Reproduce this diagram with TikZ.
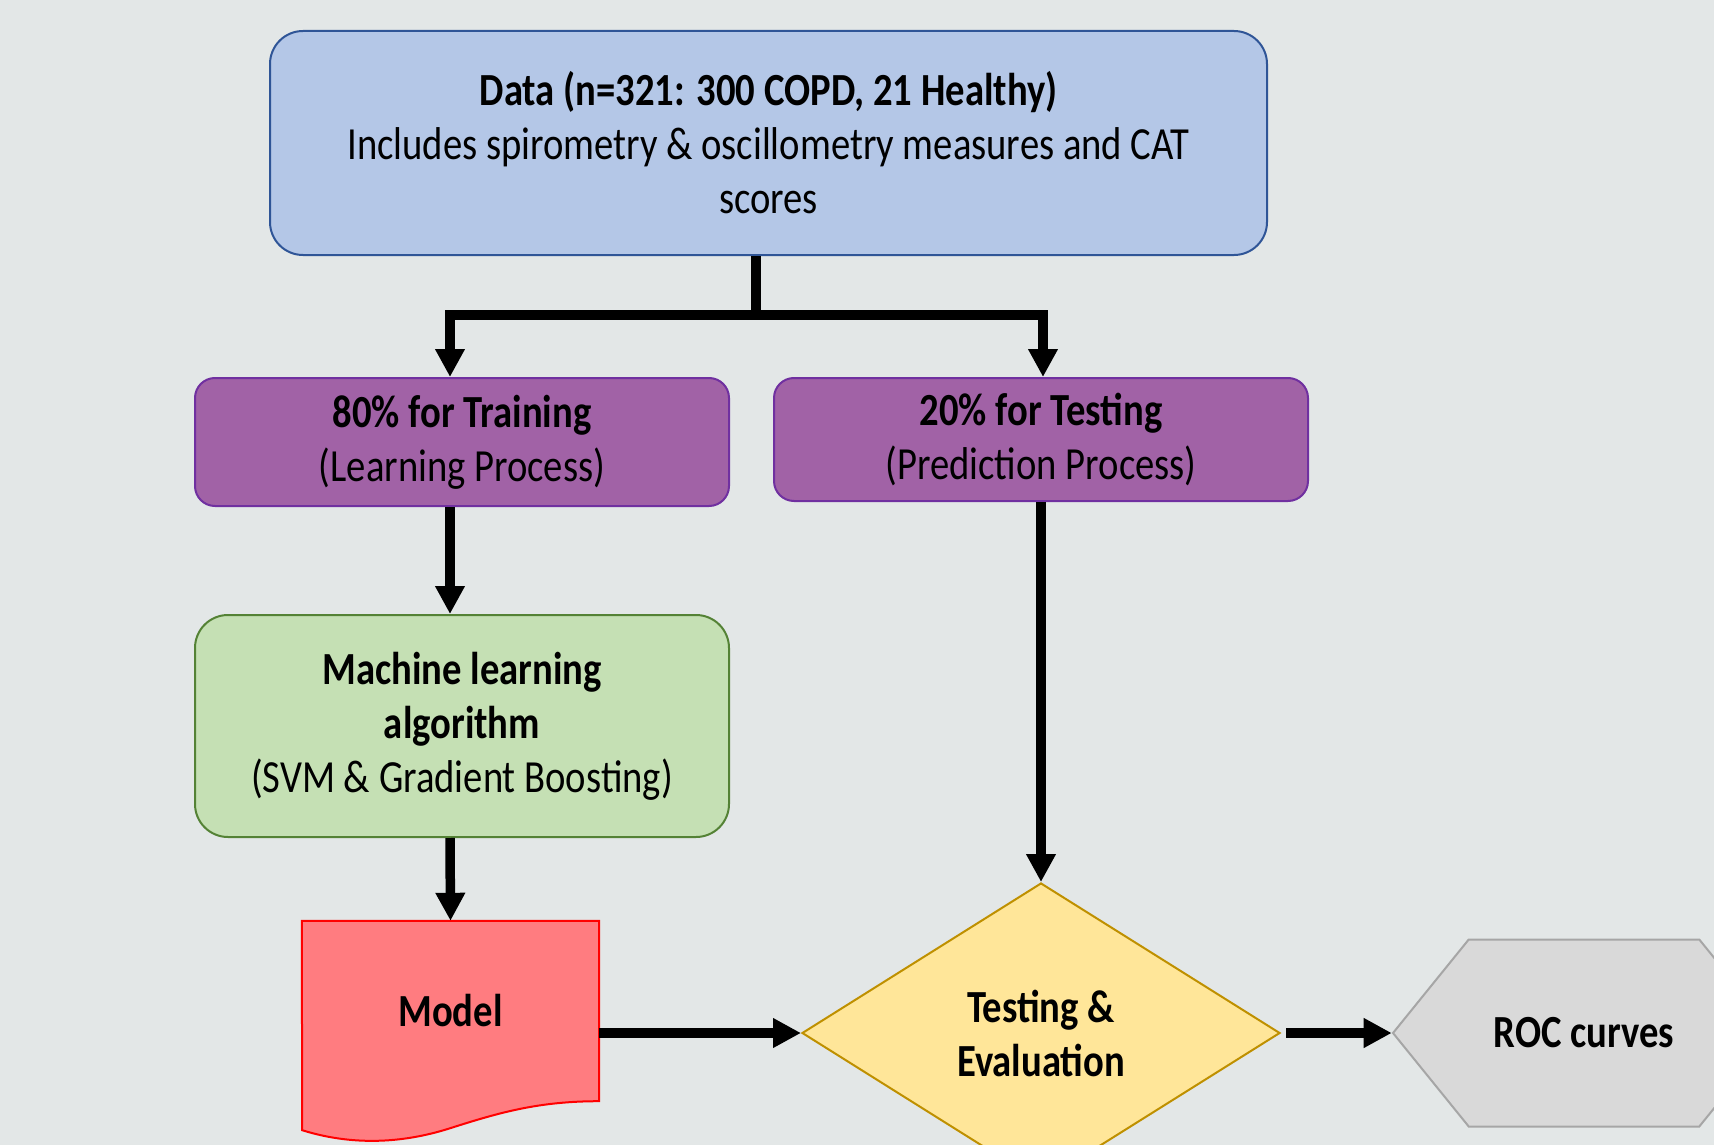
\documentclass[tikz,border=0pt]{standalone}
\usepackage{fontspec}
\setmainfont{Carlito}[FakeStretch=0.84]
\usetikzlibrary{arrows.meta, positioning, shapes.geometric, shapes.symbols, backgrounds}

\definecolor{canvasgray}{HTML}{E3E7E7}
\definecolor{datafill}{HTML}{B4C7E7}
\definecolor{dataline}{HTML}{2F5597}
\definecolor{splitfill}{HTML}{A162A6}
\definecolor{splitline}{HTML}{7030A0}
\definecolor{mlfill}{HTML}{C5E0B4}
\definecolor{mlline}{HTML}{548235}
\definecolor{modelfill}{HTML}{FF7C80}
\definecolor{evalfill}{HTML}{FFE699}
\definecolor{evalline}{HTML}{BF9000}
\definecolor{rocfill}{HTML}{D9D9D9}
\definecolor{rocline}{HTML}{A6A6A6}

\pgfdeclarelayer{canvas}
\pgfsetlayers{canvas,background,main}

\tikzset{
  box/.style={draw, line width=2pt, align=center, inner sep=0pt},
  conn/.style={line width=9.5pt, -{Triangle[length=28pt,width=28pt]}},
}

\begin{document}
\begin{tikzpicture}[x=1pt, y=-1pt, font=\fontsize{46}{54}\selectfont]
    % Canvas
    \useasboundingbox (0,0) rectangle (1714,1145);
    \begin{pgfonlayer}{canvas}
        \fill[canvasgray] (0,0) rectangle (1714,1145);
    \end{pgfonlayer}

    % Boxes
    \node[box, fill=datafill, draw=dataline, rounded corners=33pt,
          minimum width=997pt, minimum height=224pt] (data) at (768.5,143)
        {\textbf{Data (n=321: 300 COPD, 21 Healthy)}\\
         Includes spirometry \& oscillometry measures and CAT\\ scores};
    \node[box, fill=splitfill, draw=splitline, rounded corners=20pt,
          minimum width=534pt, minimum height=128pt] (train) at (462,442)
        {\textbf{80\% for Training}\\(Learning Process)};
    \node[box, fill=splitfill, draw=splitline, rounded corners=20pt,
          minimum width=534pt, minimum height=123pt] (test) at (1041,439.5)
        {\textbf{20\% for Testing}\\(Prediction Process)};
    \node[box, fill=mlfill, draw=mlline, rounded corners=33pt,
          minimum width=534pt, minimum height=222pt] (ml) at (462,726)
        {\textbf{Machine learning}\\\textbf{algorithm}\\(SVM \& Gradient Boosting)};
    \node[align=center, inner sep=0pt, minimum width=297pt,
          minimum height=180pt] (model) at (450.5,1011) {\textbf{Model}};
    \node[box, diamond, fill=evalfill, draw=evalline,
          minimum width=478pt, minimum height=300pt] (evalnode) at (1041,1033)
        {\textbf{Testing \&}\\\textbf{Evaluation}};
    \node[box, signal, signal to=west and east, signal pointer angle=102,
          fill=rocfill, draw=rocline, minimum width=382pt,
          minimum height=187pt] (roc) at (1584,1033) {\textbf{ROC curves}};

    % Document shape behind the model text
    \begin{pgfonlayer}{background}
        \draw[line width=2pt, draw=red, fill=modelfill]
            (model.north west) -- (model.north east) -- (model.south east)
            .. controls +(-60,0) and +(50,-16) .. ++(-149,27)
            .. controls +(-50,16) and +(48,15) .. ++(-148,2) -- cycle;
    \end{pgfonlayer}

    % Connectors
    \coordinate (split) at (756,315);
    \draw[line width=9.5pt] (data.south -| split) -- (split);
    \draw[conn] (split) -| ([xshift=-12pt]train.north);
    \draw[conn] (split) -| ([xshift=2pt]test.north);
    \draw[conn] ([xshift=-12pt]train.south) -- ([xshift=-12pt]ml.north);
    \draw[conn] ([xshift=-12pt]ml.south) -- (model.north);
    \draw[conn] (test.south) -- (evalnode.north);
    \draw[conn] (model.east |- evalnode.west) -- (evalnode.west);
    \draw[conn, shorten <=5pt] (evalnode.east) -- (roc.west);
\end{tikzpicture}
\end{document}
